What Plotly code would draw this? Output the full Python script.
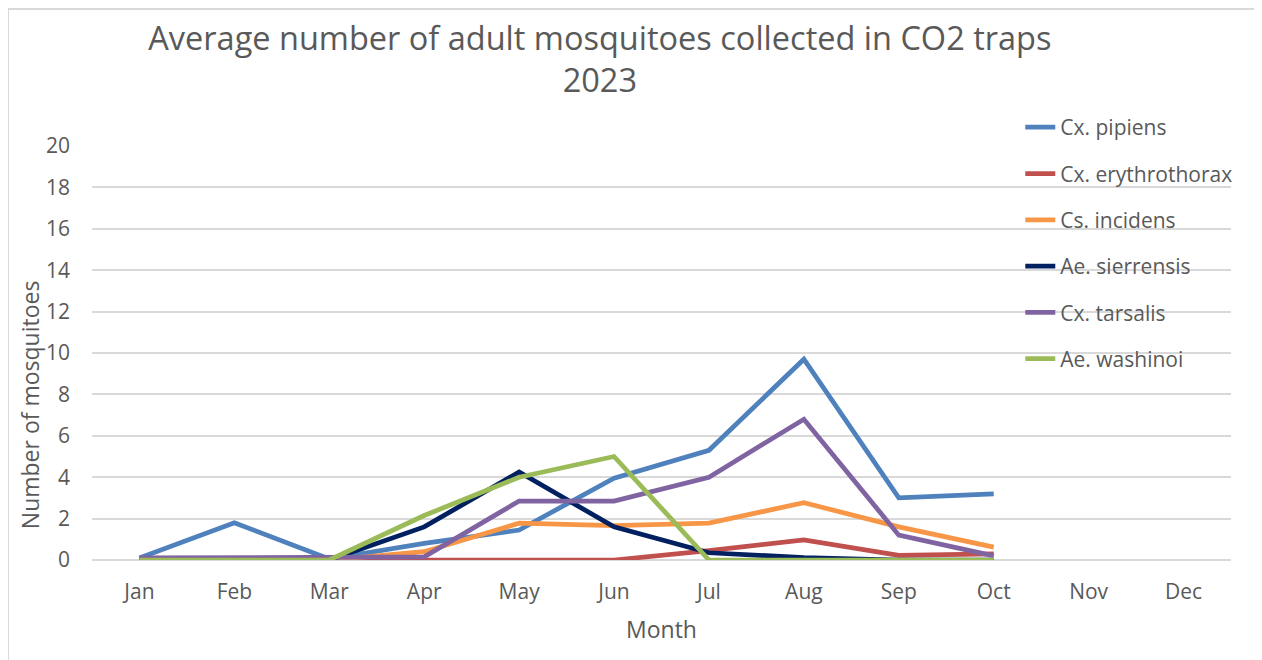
import plotly.graph_objects as go

months = ["Jan", "Feb", "Mar", "Apr", "May", "Jun", "Jul", "Aug", "Sep", "Oct", "Nov", "Dec"]

cx_pipiens = [0.1, 1.8, 0.05, 0.8, 1.45, 3.95, 5.3, 9.7, 3.0, 3.2]
cx_erythrothorax = [0.0, 0.0, 0.0, 0.0, 0.05, 0.0, 0.45, 0.97, 0.22, 0.3]
cs_incidens = [0.0, 0.0, 0.0, 0.4, 1.78, 1.66, 1.78, 2.77, 1.6, 0.62]
ae_sierrensis = [0.0, 0.0, 0.0, 1.6, 4.25, 1.6, 0.35, 0.12, 0.0, 0.0]
cx_tarsalis = [0.1, 0.1, 0.12, 0.15, 2.85, 2.85, 4.0, 6.8, 1.2, 0.2]
ae_washinoi = [0.0, 0.0, 0.0, 2.15, 4.0, 5.0, 0.0, 0.0, 0.0, 0.0]

series = [
    ("Cx. pipiens", cx_pipiens, "#4F81BD"),
    ("Cx. erythrothorax", cx_erythrothorax, "#C0504D"),
    ("Cs. incidens", cs_incidens, "#F79646"),
    ("Ae. sierrensis", ae_sierrensis, "#002060"),
    ("Cx. tarsalis", cx_tarsalis, "#8064A2"),
    ("Ae. washinoi", ae_washinoi, "#9BBB59"),
]

FONT = "Open Sans"
GREY = "#595959"

fig = go.Figure()
for i, (name, vals, color) in enumerate(series):
    fig.add_trace(go.Scatter(
        x=months[:len(vals)], y=vals, name=name, mode="lines",
        line=dict(color=color, width=4.75),
        legendgroup=f"g{i}",
    ))

fig.update_layout(
    width=1262, height=660,
    paper_bgcolor="white", plot_bgcolor="white",
    margin=dict(l=84, r=39, t=138, b=108, autoexpand=False),
    font=dict(family=FONT, color=GREY, size=21),
    title=dict(
        text="Average number of adult mosquitoes collected in CO2 traps<br>2023",
        x=0.469, xanchor="center", y=0.936, yanchor="top",
        font=dict(family=FONT, size=32.5, color=GREY),
    ),
    xaxis=dict(
        categoryorder="array", categoryarray=months,
        range=[-0.5, 11.5], showgrid=False, zeroline=False,
        showline=False, ticks="", ticklabelstandoff=17,
        tickfont=dict(size=21, color=GREY),
        title=dict(text="Month", font=dict(size=23, color=GREY), standoff=17),
    ),
    yaxis=dict(
        range=[0, 20], dtick=2, showgrid=True, gridcolor="#D9D9D9", gridwidth=1.5,
        zeroline=True, zerolinecolor="#D9D9D9", zerolinewidth=1.5,
        showline=False, ticks="", ticklabelstandoff=21,
        tickfont=dict(size=21, color=GREY),
    ),
    annotations=[dict(
        text="Number of mosquitoes", textangle=-90, showarrow=False,
        xref="paper", yref="paper", x=-62 / 1139, y=0.374,
        xanchor="center", yanchor="middle",
        font=dict(size=23, color=GREY),
    )],
    legend=dict(
        x=0.815, xanchor="left", y=1.094, yanchor="top",
        bgcolor="rgba(0,0,0,0)", font=dict(size=21, color=GREY),
        tracegroupgap=16, traceorder="grouped",
    ),
    shapes=[dict(type="rect", xref="paper", yref="paper",
                 x0=-84 / 1139, x1=1.2, y0=-0.4, y1=1 + 137 / 414,
                 line=dict(color="#D9D9D9", width=2))],
)

fig.write_html("out.html")
